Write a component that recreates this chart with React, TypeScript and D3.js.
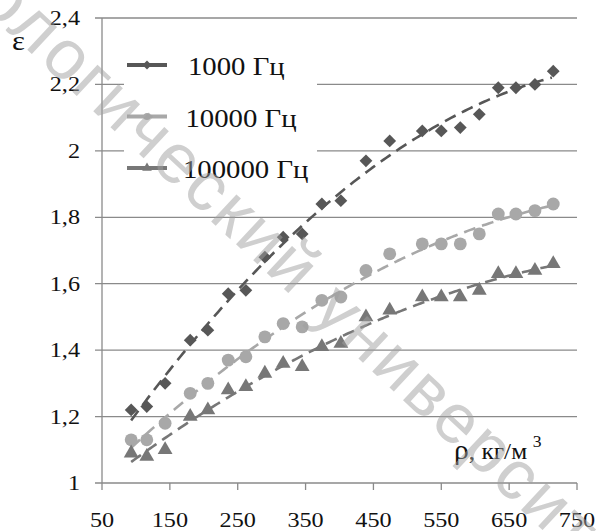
import React from "react";
import * as d3 from "d3";

// плотность, кг/м3
const density = [93, 116, 143, 180, 206, 236, 262, 290, 317, 345, 374, 402, 439, 474, 522, 550, 578, 606, 634, 660, 688, 715];
// диэлектрическая проницаемость
const eps1000 = [1.22, 1.23, 1.3, 1.43, 1.46, 1.57, 1.58, 1.68, 1.74, 1.75, 1.84, 1.85, 1.97, 2.03, 2.06, 2.06, 2.07, 2.11, 2.19, 2.19, 2.2, 2.24];
const eps10000 = [1.13, 1.13, 1.18, 1.27, 1.3, 1.37, 1.38, 1.44, 1.48, 1.47, 1.55, 1.56, 1.64, 1.69, 1.72, 1.72, 1.72, 1.75, 1.81, 1.81, 1.82, 1.84];
const eps100000 = [1.09, 1.08, 1.1, 1.2, 1.22, 1.28, 1.29, 1.33, 1.36, 1.35, 1.41, 1.42, 1.5, 1.52, 1.56, 1.56, 1.56, 1.58, 1.63, 1.63, 1.64, 1.66];

const seriesNames = ["1000 Гц", "10000 Гц", "100000 Гц"];
const xTicks = [50, 150, 250, 350, 450, 550, 650, 750];
const yTicks = [1, 1.2, 1.4, 1.6, 1.8, 2, 2.2, 2.4];

const W = 599;
const H = 531;
const serif = "'Liberation Serif', 'Times New Roman', serif";

// квадратичный тренд (МНК)
function quadFit(xs: number[], ys: number[]) {
  const s = [0, 0, 0, 0, 0];
  const t = [0, 0, 0];
  xs.forEach((x, i) => {
    for (let k = 0; k < 5; k++) s[k] += Math.pow(x, k);
    for (let k = 0; k < 3; k++) t[k] += Math.pow(x, k) * ys[i];
  });
  const m = [
    [s[0], s[1], s[2], t[0]],
    [s[1], s[2], s[3], t[1]],
    [s[2], s[3], s[4], t[2]],
  ];
  for (let i = 0; i < 3; i++) {
    for (let j = i + 1; j < 3; j++) {
      const f = m[j][i] / m[i][i];
      for (let k = i; k < 4; k++) m[j][k] -= f * m[i][k];
    }
  }
  const c = [0, 0, 0];
  for (let i = 2; i >= 0; i--) {
    let v = m[i][3];
    for (let k = i + 1; k < 3; k++) v -= m[i][k] * c[k];
    c[i] = v / m[i][i];
  }
  return (x: number) => c[0] + c[1] * x + c[2] * x * x;
}

export default function App() {
  const x = d3.scaleLinear().domain([50, 750]).range([102, 577]);
  const y = d3.scaleLinear().domain([1, 2.4]).range([483, 18]);
  const fmt = (v: number) => String(+v.toFixed(1)).replace(".", ",");

  // ромб = квадрат, повёрнутый на 45°
  const series = [
    { name: seriesNames[0], values: eps1000, color: "#575757", symbol: d3.symbolSquare, size: 82, rot: 45 },
    { name: seriesNames[1], values: eps10000, color: "#a8a8a8", symbol: d3.symbolCircle, size: 130, rot: 0 },
    { name: seriesNames[2], values: eps100000, color: "#777777", symbol: d3.symbolTriangle, size: 95, rot: 0 },
  ];

  const line = d3
    .line<number>()
    .x((d) => x(d))
    .curve(d3.curveMonotoneX);

  return (
    <svg width={W} height={H} style={{ position: "absolute", left: 0, top: 0, background: "#fff" }}>
      <rect width={W} height={H} fill="#fff" />
      {/* сетка */}
      {yTicks.map((t) => (
        <g key={t}>
          <line x1={95} x2={577} y1={y(t)} y2={y(t)} stroke="#8a8a8a" strokeWidth={1.3} />
          <text
            transform={`translate(80,${y(t) + 7}) scale(1.1,1)`}
            textAnchor="end"
            fontFamily={serif}
            fontSize={22}
            fill="#111"
          >
            {fmt(t)}
          </text>
        </g>
      ))}
      <line x1={102} x2={102} y1={18} y2={483} stroke="#8a8a8a" strokeWidth={1.3} />
      {xTicks.map((t) => (
        <g key={t}>
          <line x1={x(t)} x2={x(t)} y1={483} y2={490} stroke="#8a8a8a" strokeWidth={1.3} />
          <text
            transform={`translate(${x(t)},527) scale(1.1,1)`}
            textAnchor="middle"
            fontFamily={serif}
            fontSize={22}
            fill="#111"
          >
            {t}
          </text>
        </g>
      ))}

      {/* легенда */}
      <rect x={124} y={32} width={193} height={168} fill="#fff" />
      {series.map((s, i) => {
        const ly = 65 + i * 51.5;
        return (
          <g key={s.name}>
            <line x1={127} x2={167} y1={ly} y2={ly} stroke={s.color} strokeWidth={4} />
            <path
              transform={`translate(147,${ly}) rotate(${s.rot})`}
              d={d3.symbol().type(s.symbol).size(40)() || ""}
              fill={s.color}
            />
            <text
              transform={`translate(${188 - i * 2.5},${ly + 10}) scale(1.15,1)`}
              fontFamily={serif}
              fontSize={25}
              fill="#111"
            >
              {s.name}
            </text>
          </g>
        );
      })}

      {/* данные и тренды */}
      {series.map((s) => {
        const f = quadFit(density, s.values);
        const xs = d3.range(density[0], density[density.length - 1] + 1, 4);
        const path = line.y((d) => y(f(d)))(xs) || "";
        return (
          <g key={s.name}>
            <path d={path} fill="none" stroke={s.color} strokeWidth={2.6} strokeDasharray="12 7" />
            {density.map((d, i) => (
              <path
                key={i}
                transform={`translate(${x(d)},${y(s.values[i])}) rotate(${s.rot})`}
                d={d3.symbol().type(s.symbol).size(s.size)() || ""}
                fill={s.color}
              />
            ))}
          </g>
        );
      })}

      {/* подписи осей */}
      <text transform="translate(12,50) scale(1.1,1)" fontFamily={serif} fontSize={28} fill="#111">
        ε
      </text>
      <text transform="translate(454,459) scale(1.1,1)" fontFamily={serif} fontSize={23} fill="#111">
        <tspan fontSize={27}>ρ</tspan>, кг/м
        <tspan dx={5} dy={-12} fontSize={16}>
          3
        </tspan>
      </text>

      {/* водяной знак */}
      <text
        transform="translate(-24,2) rotate(43)"
        fontFamily="'Liberation Sans', Arial, sans-serif"
        fontSize={70}
        letterSpacing={3}
        fill="#a0a0a0"
        opacity={0.5}
      >
        ологический университет
      </text>
    </svg>
  );
}
